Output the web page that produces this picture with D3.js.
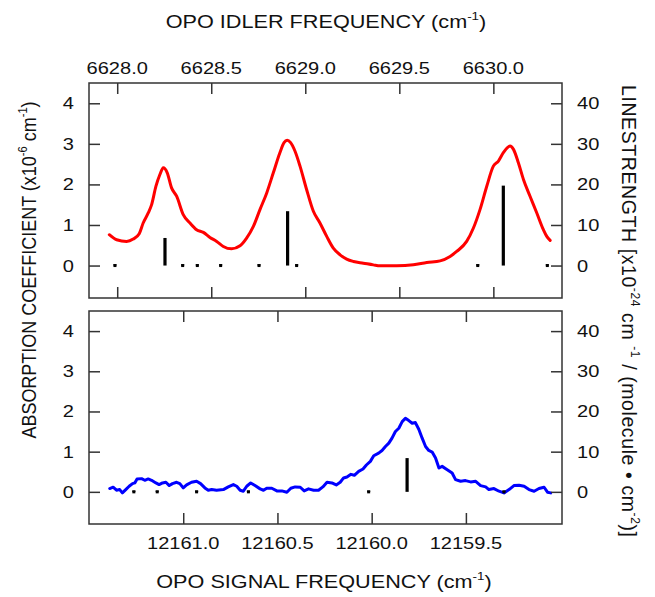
<!DOCTYPE html>
<html>
<head>
<meta charset="utf-8">
<script src="https://cdn.jsdelivr.net/npm/d3@7"></script>
<style>
  html, body { margin: 0; padding: 0; background: #fff; }
  svg { display: block; }
</style>
</head>
<body>
<div id="chart"></div>
<script>
// axis ticks
const idlerTicks = [6628.0, 6628.5, 6629.0, 6629.5, 6630.0];
const signalTicks = [12161.0, 12160.5, 12160.0, 12159.5];
const absTicks = [0, 1, 2, 3, 4];
const lsTicks = [0, 10, 20, 30, 40];

// top panel: absorption vs idler frequency (red)
const idlerFreq = [6627.958, 6627.997, 6628.050, 6628.085, 6628.117, 6628.138, 6628.165, 6628.183, 6628.206, 6628.227,
  6628.245, 6628.266, 6628.289, 6628.316, 6628.351, 6628.387, 6628.422, 6628.458, 6628.493, 6628.529,
  6628.564, 6628.608, 6628.653, 6628.688, 6628.724, 6628.759, 6628.795, 6628.830, 6628.865, 6628.887,
  6628.904, 6628.922, 6628.945, 6628.972, 6629.007, 6629.043, 6629.078, 6629.114, 6629.149, 6629.185,
  6629.220, 6629.256, 6629.309, 6629.362, 6629.397, 6629.486, 6629.575, 6629.646, 6629.717, 6629.770,
  6629.805, 6629.858, 6629.894, 6629.929, 6629.965, 6630.000, 6630.027, 6630.053, 6630.089, 6630.107,
  6630.133, 6630.160, 6630.195, 6630.231, 6630.266, 6630.284, 6630.302];
const idlerAbs = [0.76, 0.636, 0.595, 0.653, 0.785, 1.049, 1.296, 1.502, 1.956, 2.245,
  2.41, 2.286, 1.915, 1.709, 1.255, 1.049, 0.884, 0.818, 0.694, 0.595,
  0.471, 0.413, 0.488, 0.677, 0.966, 1.379, 1.791, 2.286, 2.781, 3.029,
  3.087, 3.029, 2.823, 2.451, 1.874, 1.337, 1.049, 0.719, 0.43, 0.265,
  0.158, 0.1, 0.059, 0.017, -0.007, -0.007, 0.017, 0.075, 0.116, 0.224,
  0.347, 0.595, 0.925, 1.379, 1.956, 2.451, 2.575, 2.781, 2.946, 2.864,
  2.534, 2.121, 1.709, 1.296, 0.884, 0.719, 0.62];

// line positions / strengths, top panel
const idlerLineFreq = [6627.988, 6628.254, 6628.348, 6628.426, 6628.55, 6628.754, 6628.906, 6628.954, 6629.917, 6630.053, 6630.287];
const idlerLineStr = [0.3, 6.8, 0.3, 0.3, 0.3, 0.3, 13.4, 0.3, 0.3, 19.7, 0.3];

// bottom panel: absorption vs signal frequency (blue)
const signalFreq = [12161.390, 12161.372, 12161.354, 12161.337, 12161.323, 12161.305, 12161.287, 12161.269, 12161.257, 12161.245,
  12161.221, 12161.204, 12161.186, 12161.168, 12161.145, 12161.128, 12161.110, 12161.092, 12161.074, 12161.057,
  12161.035, 12161.018, 12161.000, 12160.982, 12160.956, 12160.929, 12160.908, 12160.885, 12160.867, 12160.849,
  12160.823, 12160.787, 12160.761, 12160.734, 12160.716, 12160.698, 12160.681, 12160.663, 12160.642, 12160.619,
  12160.592, 12160.574, 12160.557, 12160.530, 12160.503, 12160.477, 12160.450, 12160.429, 12160.406, 12160.379,
  12160.358, 12160.335, 12160.308, 12160.282, 12160.259, 12160.237, 12160.211, 12160.188, 12160.167, 12160.149,
  12160.131, 12160.110, 12160.092, 12160.069, 12160.046, 12160.028, 12160.007, 12159.989, 12159.963, 12159.945,
  12159.927, 12159.909, 12159.892, 12159.874, 12159.856, 12159.838, 12159.821, 12159.803, 12159.785, 12159.768,
  12159.750, 12159.732, 12159.714, 12159.697, 12159.679, 12159.661, 12159.643, 12159.626, 12159.599, 12159.573,
  12159.555, 12159.528, 12159.502, 12159.475, 12159.448, 12159.422, 12159.395, 12159.378, 12159.351, 12159.324,
  12159.298, 12159.271, 12159.245, 12159.218, 12159.191, 12159.165, 12159.138, 12159.112, 12159.085, 12159.067,
  12159.050];
const signalAbs = [0.082, 0.115, 0.040, 0.057, -0.026, 0.057, 0.139, 0.205, 0.222, 0.321,
  0.329, 0.288, 0.321, 0.288, 0.222, 0.181, 0.222, 0.238, 0.156, 0.205,
  0.238, 0.205, 0.098, 0.173, 0.238, 0.263, 0.205, 0.098, 0.040, 0.057,
  0.040, 0.057, 0.123, 0.181, 0.139, 0.040, 0.016, 0.139, 0.222, 0.156,
  0.074, 0.040, 0.090, 0.090, 0.024, 0.024, -0.009, 0.090, 0.123, 0.115,
  0.024, 0.074, 0.040, 0.040, 0.123, 0.238, 0.222, 0.173, 0.238, 0.346,
  0.371, 0.436, 0.412, 0.511, 0.569, 0.668, 0.758, 0.899, 0.965, 1.030,
  1.129, 1.212, 1.336, 1.501, 1.583, 1.748, 1.831, 1.773, 1.707, 1.724,
  1.559, 1.336, 1.129, 1.030, 0.989, 0.841, 0.593, 0.634, 0.552, 0.470,
  0.304, 0.263, 0.280, 0.247, 0.263, 0.156, 0.123, 0.057, 0.082, 0.016,
  -0.026, 0.057, 0.156, 0.164, 0.139, 0.057, 0.016, 0.082, 0.115, -0.009,
  -0.026];

const signalLineFreq = [12161.262, 12161.138, 12160.929, 12160.654, 12160.016, 12159.812, 12159.298];
const signalLineStr = [0.3, 0.3, 0.3, 0.3, 0.3, 8.4, 0.3];

// ---- layout ----
const W = 655, H = 597;
const plotL = 89, plotR = 562;
const topPanel = { y0: 83, y1: 298 };
const botPanel = { y0: 311, y1: 524 };
const FONT = "'Liberation Sans', Arial, Helvetica, sans-serif";
const SX = 1.18; // text in the picture is a bit wide
const frameCol = "#333";

const svg = d3.select("#chart").append("svg")
  .attr("width", W).attr("height", H)
  .style("font-family", FONT);

const xIdler = d3.scaleLinear().domain([6627.85, 6630.365]).range([plotL, plotR]);
const xSignal = d3.scaleLinear().domain([12161.5, 12158.99]).range([plotL, plotR]);

// draws a text with horizontal stretch; rot = degrees
function label(x, y, parts, size, anchor, rot, sx, len) {
  const g = svg.append("g")
    .attr("transform", `translate(${x},${y}) scale(${sx || SX},1)` + (rot ? ` rotate(${rot})` : ""));
  const t = g.append("text")
    .attr("text-anchor", anchor || "middle")
    .style("font-size", size + "px")
    .attr("fill", "#111");
  let back = 0;
  parts.forEach(p => {
    if (typeof p === "string") {
      t.append("tspan").attr("dy", back).text(p);
      back = 0;
    } else {
      // superscript, next piece drops back to the baseline
      t.append("tspan").attr("dy", -size * 0.42).style("font-size", size * 0.62 + "px").text(p.sup);
      back = size * 0.42;
    }
  });
  if (len) t.attr("textLength", len).attr("lengthAdjust", "spacing");
  return t;
}

function panel(p, xScale, xTicks, freq, abs, color, lineFreq, lineStr) {
  const y = d3.scaleLinear().domain([-0.8, 4.5]).range([p.y1, p.y0]);
  const yR = d3.scaleLinear().domain([-8, 45]).range([p.y1, p.y0]);
  const g = svg.append("g");

  // curve
  const pts = freq.map((f, i) => [f, abs[i]]);
  g.append("path")
    .datum(pts)
    .attr("fill", "none")
    .attr("stroke", color)
    .attr("stroke-width", 3)
    .attr("stroke-linejoin", "round")
    .attr("stroke-linecap", "round")
    .attr("d", d3.line().x(d => xScale(d[0])).y(d => y(d[1]))
      .curve(color === "red" ? d3.curveMonotoneX : d3.curveLinear));

  // sticks (line strengths)
  const lines = lineFreq.map((f, i) => ({ f, s: lineStr[i] }));
  g.selectAll("line.stick")
    .data(lines)
    .enter().append("line")
    .attr("class", "stick")
    .attr("x1", d => xScale(d.f)).attr("x2", d => xScale(d.f))
    .attr("y1", yR(0)).attr("y2", d => yR(d.s))
    .attr("stroke", "#000")
    .attr("stroke-width", 3.2)
    .attr("stroke-linecap", "butt");
  // small ones get a square dot
  g.selectAll("rect.dot")
    .data(lines.filter(d => d.s < 1))
    .enter().append("rect")
    .attr("x", d => xScale(d.f) - 1.5)
    .attr("y", yR(0) - 1.5)
    .attr("width", 3).attr("height", 3)
    .attr("fill", "#000");

  // frame
  g.append("rect")
    .attr("x", plotL).attr("y", p.y0)
    .attr("width", plotR - plotL).attr("height", p.y1 - p.y0)
    .attr("fill", "none").attr("stroke", frameCol).attr("stroke-width", 1.5);

  // ticks inward
  const tk = 11;
  const axes = g.append("g");
  axes.append("g").call(d3.axisLeft(y).tickValues(absTicks).tickSize(-tk).tickFormat(""))
    .attr("transform", `translate(${plotL},0)`);
  axes.append("g").call(d3.axisRight(yR).tickValues(lsTicks).tickSize(-tk).tickFormat(""))
    .attr("transform", `translate(${plotR},0)`);
  axes.append("g").call(d3.axisTop(xScale).tickValues(xTicks).tickSize(-tk).tickFormat(""))
    .attr("transform", `translate(0,${p.y0})`);
  axes.append("g").call(d3.axisBottom(xScale).tickValues(xTicks).tickSize(-tk).tickFormat(""))
    .attr("transform", `translate(0,${p.y1})`);
  axes.selectAll(".domain").remove();
  axes.selectAll(".tick text").remove();
  axes.selectAll(".tick line").attr("stroke", frameCol).attr("stroke-width", 1.5);

  // tick labels
  absTicks.forEach(v => label(plotL - 15, y(v) + 6, [String(v)], 17, "end"));
  lsTicks.forEach(v => label(plotR + 15, yR(v) + 6, [String(v)], 17, "start"));
  return { y, yR };
}

panel(topPanel, xIdler, idlerTicks, idlerFreq, idlerAbs, "red", idlerLineFreq, idlerLineStr);
panel(botPanel, xSignal, signalTicks, signalFreq, signalAbs, "blue", signalLineFreq, signalLineStr);

const fmt = d3.format(".1f");
idlerTicks.forEach(v => label(xIdler(v), 74, [fmt(v)], 17, "middle"));
signalTicks.forEach(v => label(xSignal(v), 549, [fmt(v)], 17, "middle"));

// titles
label(326, 28, ["OPO IDLER FREQUENCY (cm", { sup: "-1" }, ")"], 19, "middle", 0, 1.14);
label(324, 588, ["OPO SIGNAL FREQUENCY (cm", { sup: "-1" }, ")"], 19, "middle", 0, 1.14);
label(36, 270, ["ABSORPTION COEFFICIENT (x10", { sup: "-6" }, " cm", { sup: "-1" }, ")"], 18, "middle", -90, 1.15);
label(622, 311, ["LINESTRENGTH [x10", { sup: "-24" }, " cm  ", { sup: "-1" }, " / (molecule \u2022 cm", { sup: "-2" }, ")]"], 19.5, "middle", 90, 1.05, 452);
</script>
</body>
</html>
